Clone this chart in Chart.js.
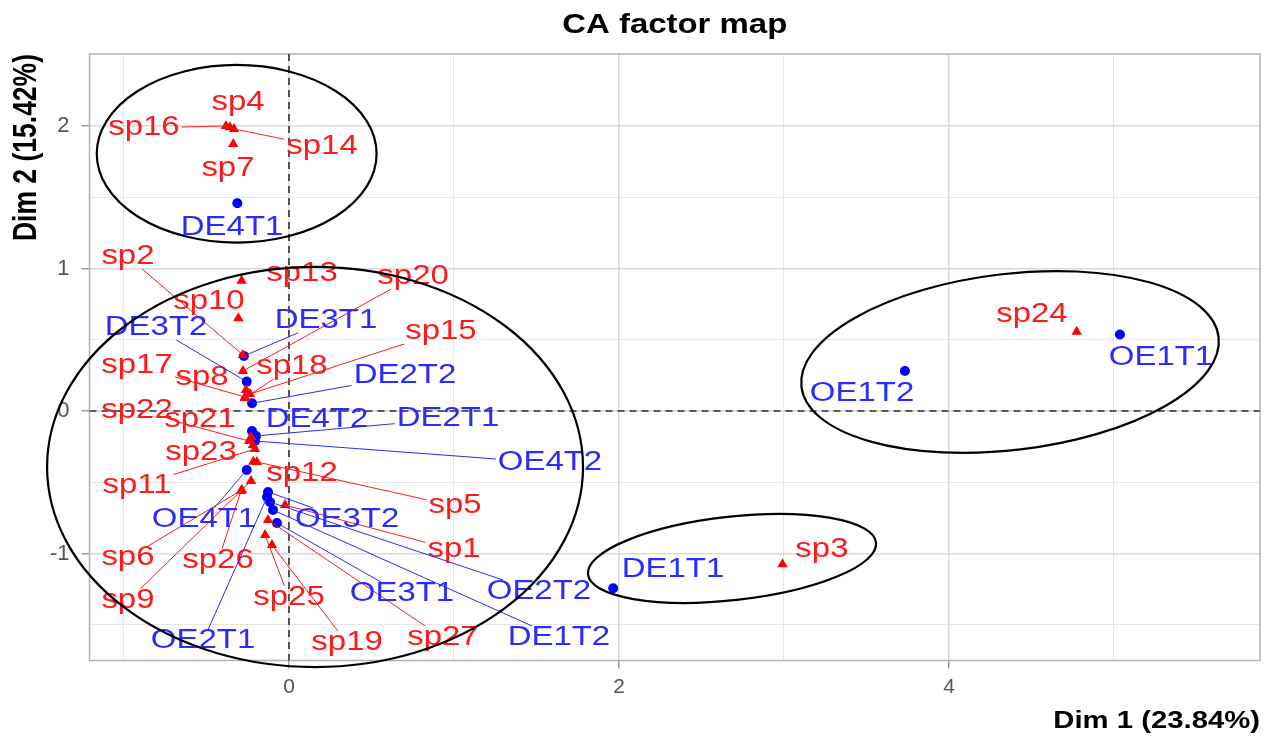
<!DOCTYPE html>
<html>
<head>
<meta charset="utf-8">
<title>CA factor map</title>
<script src="https://cdn.jsdelivr.net/npm/chart.js@4.4.0/dist/chart.umd.min.js"></script>
<style>
  html, body { margin: 0; padding: 0; background: #fff; }
  #wrap { width: 1274px; height: 737px; position: relative; }
</style>
</head>
<body>
<div id="wrap"><canvas id="mapaCA"></canvas></div>
<script>
// columnas (puntos azules)
const colNames = ['DE1T1','DE1T2','DE2T1','DE2T2','DE3T1','DE3T2','DE4T1','DE4T2',
                  'OE1T1','OE1T2','OE2T1','OE2T2','OE3T1','OE3T2','OE4T1','OE4T2'];
const colX = [1.965, -0.097, -0.200, -0.224, -0.273, -0.256, -0.313, -0.224,
              5.036, 3.733, -0.133, -0.115, -0.073, -0.127, -0.256, -0.206];
const colY = [-1.244, -0.695, -0.175, 0.054, 0.386, 0.206, 1.458, -0.140,
              0.537, 0.281, -0.604, -0.639, -0.786, -0.568, -0.414, -0.211];
// donde quedan las etiquetas (repel)
const colLabX = [2.327, 1.636, 0.964, 0.703, 0.224, -0.806, -0.345, 0.170,
                 5.285, 3.473, -0.521, 1.515, 0.685, 0.352, -0.515, 1.582];
const colLabY = [-1.116, -1.593, -0.056, 0.246, 0.632, 0.582, 1.284, -0.063,
                 0.372, 0.119, -1.614, -1.270, -1.284, -0.765, -0.765, -0.365];

// filas (triangulos rojos)
const rowNames = ['sp1','sp2','sp3','sp4','sp5','sp6','sp7','sp8','sp9','sp10',
                  'sp11','sp12','sp13','sp14','sp15','sp16','sp17','sp18','sp19','sp20',
                  'sp21','sp22','sp23','sp24','sp25','sp26','sp27'];
const rowX = [-0.024, -0.279, 2.991, -0.358, -0.194, -0.285, -0.338, -0.261, -0.230, -0.307,
              -0.206, -0.216, -0.287, -0.333, -0.236, -0.382, -0.267, -0.267, -0.103, -0.279,
              -0.230, -0.242, -0.218, 4.774, -0.145, -0.291, -0.127];
const rowY = [-0.660, 0.393, -1.076, 1.991, -0.358, -0.554, 1.874, 0.147, -0.491, 0.651,
              -0.267, -0.356, 0.914, 1.979, 0.119, 2.000, 0.098, 0.091, -0.940, 0.281,
              -0.182, -0.211, -0.239, 0.556, -0.870, -0.561, -0.765];
const rowLabX = [1.000, -0.976, 3.230, -0.309, 1.006, -0.976, -0.370, -0.527, -0.976, -0.485,
                 -0.921, 0.079, 0.079, 0.200, 0.921, -0.879, -0.921, 0.018, 0.352, 0.752,
                 -0.539, -0.921, -0.533, 4.503, 0.000, -0.430, 0.933];
const rowLabY = [-0.975, 1.081, -0.975, 2.161, -0.667, -1.032, 1.698, 0.232, -1.333, 0.765,
                 -0.526, -0.442, 0.961, 1.853, 0.554, 1.986, 0.316, 0.309, -1.628, 0.940,
                 -0.063, 0.000, -0.295, 0.674, -1.312, -1.053, -1.593];

const xTicks = [-1, 0, 1, 2, 3, 4, 5];
const xTickLabels = [0, 2, 4];
const yTicks = [-1.5, -1, -0.5, 0, 0.5, 1, 1.5, 2];
const yTickLabels = [-1, 0, 1, 2];

// elipses de los grupos
const ellCx = [-0.317, 0.158, 4.370, 2.685];
const ellCy = [1.805, -0.393, 0.344, -1.035];
const ellRx = [0.848, 1.624, 1.273, 0.878];
const ellRy = [0.623, 1.404, 0.618, 0.293];
const ellRot = [0, 0, 6.8, 6.3];

const FONT = '"Liberation Sans", Arial, sans-serif';
const SX = 1.22; // la imagen original esta estirada a lo ancho

function textoEstirado(ctx, txt, x, y, align) {
    ctx.save();
    ctx.translate(x, y);
    ctx.scale(SX, 1);
    ctx.textAlign = align || 'center';
    ctx.fillText(txt, 0, 0);
    ctx.restore();
}

function dibujarEtiquetas(chart, names, xs, ys, lx, ly, color) {
    const ctx = chart.ctx;
    const sx = chart.scales.x, sy = chart.scales.y;
    ctx.font = '27px ' + FONT;
    ctx.textBaseline = 'middle';
    // segmentos primero
    ctx.strokeStyle = color;
    ctx.lineWidth = 1;
    for (let i = 0; i < names.length; i++) {
        const px = sx.getPixelForValue(xs[i]), py = sy.getPixelForValue(ys[i]);
        const cx = sx.getPixelForValue(lx[i]), cy = sy.getPixelForValue(ly[i]);
        const hw = ctx.measureText(names[i]).width * SX / 2 + 2;
        const hh = 12;
        const dx = cx - px, dy = cy - py;
        const tx = Math.abs(dx) > hw ? (Math.abs(dx) - hw) / Math.abs(dx) : 0;
        const ty = Math.abs(dy) > hh ? (Math.abs(dy) - hh) / Math.abs(dy) : 0;
        const t = Math.max(tx, ty);
        const largo = t * Math.hypot(dx, dy);
        if (largo > 26) {
            ctx.beginPath();
            ctx.moveTo(px, py);
            ctx.lineTo(px + dx * t, py + dy * t);
            ctx.stroke();
        }
    }
    ctx.fillStyle = color;
    for (let i = 0; i < names.length; i++) {
        textoEstirado(ctx, names[i], sx.getPixelForValue(lx[i]), sy.getPixelForValue(ly[i]));
    }
}

const capas = {
    id: 'capas',
    beforeDatasetsDraw(chart) {
        const ctx = chart.ctx, a = chart.chartArea;
        const sx = chart.scales.x, sy = chart.scales.y;
        ctx.save();
        ctx.strokeStyle = '#b3b3b3';
        ctx.lineWidth = 1.5;
        ctx.strokeRect(a.left, a.top, a.right - a.left, a.bottom - a.top);
        ctx.strokeStyle = '#333';
        ctx.lineWidth = 1.6;
        ctx.setLineDash([7, 5]);
        const x0 = sx.getPixelForValue(0), y0 = sy.getPixelForValue(0);
        ctx.beginPath();
        ctx.moveTo(x0, a.top); ctx.lineTo(x0, a.bottom);
        ctx.moveTo(a.left, y0); ctx.lineTo(a.right, y0);
        ctx.stroke();
        ctx.restore();
    },
    afterDatasetsDraw(chart) {
        const ctx = chart.ctx, a = chart.chartArea;
        const sx = chart.scales.x, sy = chart.scales.y;
        ctx.save();
        dibujarEtiquetas(chart, rowNames, rowX, rowY, rowLabX, rowLabY, '#ff1a1a');
        dibujarEtiquetas(chart, colNames, colX, colY, colLabX, colLabY, '#2b2bff');

        // elipses
        const kx = Math.abs(sx.getPixelForValue(1) - sx.getPixelForValue(0));
        const ky = Math.abs(sy.getPixelForValue(1) - sy.getPixelForValue(0));
        ctx.strokeStyle = '#000';
        ctx.lineWidth = 2.2;
        for (let i = 0; i < ellCx.length; i++) {
            ctx.beginPath();
            ctx.ellipse(sx.getPixelForValue(ellCx[i]), sy.getPixelForValue(ellCy[i]),
                        ellRx[i] * kx, ellRy[i] * ky, -ellRot[i] * Math.PI / 180, 0, Math.PI * 2);
            ctx.stroke();
        }

        // titulos
        ctx.fillStyle = '#000';
        ctx.font = 'bold 27px ' + FONT;
        ctx.textBaseline = 'alphabetic';
        textoEstirado(ctx, 'CA factor map', (a.left + a.right) / 2, 33, 'center');
        ctx.font = 'bold 24px ' + FONT;
        ctx.textBaseline = 'middle';
        textoEstirado(ctx, 'Dim 1 (23.84%)', a.right, 721, 'right');
        ctx.font = 'bold 26.5px ' + FONT;
        ctx.save();
        ctx.translate(27, a.top);
        ctx.rotate(-Math.PI / 2);
        ctx.scale(1, SX);
        ctx.textAlign = 'right';
        ctx.fillText('Dim 2 (15.42%)', 0, 0);
        ctx.restore();
        ctx.restore();
    }
};

const esMayorX = v => xTickLabels.includes(v);
const esMayorY = v => yTickLabels.includes(v);

new Chart(document.getElementById('mapaCA').getContext('2d'), {
    type: 'scatter',
    data: {
        datasets: [
            {
                label: 'filas',
                data: rowX.map((x, i) => ({ x: x, y: rowY[i] })),
                pointStyle: 'triangle',
                radius: 6,
                backgroundColor: 'red',
                borderWidth: 0,
                order: 1
            },
            {
                label: 'columnas',
                data: colX.map((x, i) => ({ x: x, y: colY[i] })),
                pointStyle: 'circle',
                radius: 5,
                backgroundColor: 'blue',
                borderWidth: 0,
                order: 2
            }
        ]
    },
    options: {
        responsive: true,
        maintainAspectRatio: false,
        animation: false,
        layout: { padding: { top: 54, right: 14, left: 0, bottom: 0 } },
        plugins: {
            legend: { display: false },
            tooltip: { enabled: false },
            title: { display: false }
        },
        scales: {
            x: {
                type: 'linear',
                min: -1.209,
                max: 5.885,
                afterBuildTicks: s => { s.ticks = xTicks.map(v => ({ value: v })); },
                afterFit: s => { s.height = 76.5; },
                border: { display: false },
                grid: {
                    color: c => esMayorX(c.tick.value) ? '#dadada' : '#e6e6e6',
                    lineWidth: c => esMayorX(c.tick.value) ? 1.5 : 1,
                    tickColor: c => esMayorX(c.tick.value) ? '#999' : 'rgba(0,0,0,0)',
                    tickLength: 8
                },
                ticks: {
                    autoSkip: false,
                    maxRotation: 0,
                    padding: 6,
                    color: '#555',
                    font: { size: 21, family: FONT },
                    callback: v => esMayorX(v) ? String(v) : ''
                }
            },
            y: {
                type: 'linear',
                min: -1.751,
                max: 2.505,
                afterBuildTicks: s => { s.ticks = yTicks.map(v => ({ value: v })); },
                afterFit: s => { s.width = 89.5; },
                border: { display: false },
                grid: {
                    color: c => esMayorY(c.tick.value) ? '#dadada' : '#e6e6e6',
                    lineWidth: c => esMayorY(c.tick.value) ? 1.5 : 1,
                    tickColor: c => esMayorY(c.tick.value) ? '#999' : 'rgba(0,0,0,0)',
                    tickLength: 8
                },
                ticks: {
                    autoSkip: false,
                    padding: 12,
                    color: '#555',
                    font: { size: 22, family: FONT },
                    callback: v => esMayorY(v) ? String(v) : ''
                }
            }
        }
    },
    plugins: [capas]
});
</script>
</body>
</html>
